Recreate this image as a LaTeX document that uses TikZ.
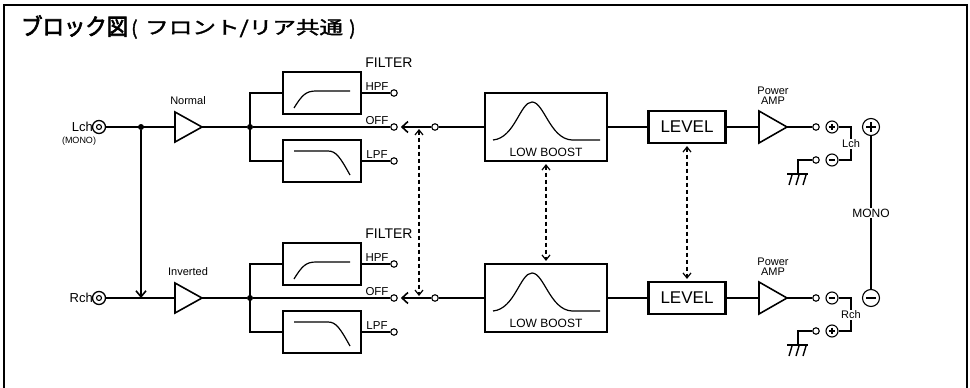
\documentclass[tikz,border=0pt]{standalone}
\usepackage{fontspec}
\setmainfont{Liberation Sans}
\newfontfamily\cjkbig[FakeBold=3]{Noto Sans CJK JP}
\newfontfamily\cjksmall[FakeBold=1.8]{Noto Sans CJK JP}
\usetikzlibrary{arrows.meta}
\tikzset{mybarb/.tip={Straight Barb[length=5pt,width=8pt,line width=1.2pt]}}

\newcommand\fs[1]{\fontsize{#1}{#1}\selectfont}

\newcommand\sgnode[5]{%
  \node[sgn, minimum size={2*#4}] (#1) at (#2,#3) {};
  \draw[line width=1.1pt] (#1.center) +({-0.55*#4},0) -- +({0.55*#4},0);
  \ifnum#5=1 \draw[line width=1.1pt] (#1.center) +(0,{-0.55*#4}) -- +(0,{0.55*#4});\fi
}

% #1 suffix, #2 row y, #3 input label, #4 amp label, #5 upper sign, #6 lower sign, #7 speaker label
\newcommand\chan[7]{%
\begin{scope}[shift={(0,#2)}]
  \node[jack] (jk#1) at (99,0) {};
  \node[jacki] (jki#1) at (99,0) {};
  \node[lbl, font=\fs{13}, anchor=east] (in#1) at (93,0) {#3};
  \draw[amp] (175,-15) -- (202,0) -- (175,15) -- cycle;
  \coordinate (ai#1) at (175,0);
  \coordinate (ao#1) at (202,0);
  \node[lbl, font=\fs{11}] (al#1) at (188,-26) {#4};
  \node[dotn] (fd#1) at (250,0) {};
  \node[fbox] (hpf#1) at (322,-34) {};
  \node[fbox] (lpf#1) at (322,34) {};
  \draw[curve] (294,-19) .. controls (302,-32) and (306,-36) .. (316,-36) -- (350,-36);
  \draw[curve] (294,24) -- (328,24) .. controls (336,24) and (340,30) .. (350,48);
  \node[term] (th#1) at (394,-34) {};
  \node[term] (to#1) at (394,0) {};
  \node[term] (tl#1) at (394,34) {};
  \node[lbl, font=\fs{11.5}, anchor=base] at (377,-36.5) {HPF};
  \node[lbl, font=\fs{11.5}, anchor=base] at (377,-2.5) {OFF};
  \node[lbl, font=\fs{11.5}, anchor=base] at (377,31.5) {LPF};
  \node[lbl, font=\fs{14}] (fl#1) at (389,-64) {FILTER};
  \node[term] (sw#1) at (435,0) {};
  \coordinate (ds#1) at (419,0);
  \node[lbbox] (lb#1) at (546,0) {};
  \node[lbl, font=\fs{12}] at (546,25) {LOW BOOST};
  \draw[curve] (493,13) .. controls (515,11) and (520,-25) .. (532,-25)
               .. controls (544,-25) and (550,12) .. (572,13) -- (600,13);
  \node[lvbox, font=\fs{17}] (lv#1) at (687,0) {LEVEL};
  \draw[amp] (759,-16) -- (787,0) -- (759,16) -- cycle;
  \coordinate (pi#1) at (759,0);
  \coordinate (po#1) at (787,0);
  \node[lbl, font=\fs{11}, align=center] at (773,-31) {Power\\[-1pt]AMP};
  \node[term] (ot#1) at (816,0) {};
  \sgnode{sa#1}{832}{0}{6}{#5}
  \sgnode{sb#1}{832}{33}{6}{#6}
  \node[term] (gt#1) at (816,33) {};
  \coordinate (gc#1) at (798,47);
  \draw[wire1] (sa#1) -- (851,0) -- (851,33) -- (sb#1);
  \node[lbl, font=\fs{11}, fill=white, inner sep=1pt] at (851,17) {#7};
  \draw[wire1] (gt#1) -| (gc#1);
  \draw[wire1] (787,47) -- (808,47);
  \draw[wire1] (792,48) -- (789,58) (799,48) -- (796,58) (806,48) -- (803,58);
  % wires
  \draw[wire] (jk#1) -- (ai#1);
  \draw[wire] (ao#1) -- (fd#1);
  \draw[wire] (fd#1) -- (to#1);
  \draw[wire] (fd#1.center) |- (hpf#1.west);
  \draw[wire] (fd#1.center) |- (lpf#1.west);
  \draw[wire] (hpf#1.east) -- (th#1);
  \draw[wire] (lpf#1.east) -- (tl#1);
  \draw[wire, -{Straight Barb[length=6pt,width=11pt,line width=1.6pt]}, shorten >=3pt] (sw#1) -- (to#1);
  \draw[wire] (sw#1) -- (lb#1.west);
  \draw[wire] (lb#1.east) -- (lv#1.west);
  \draw[wire] (lv#1.east) -- (pi#1);
  \draw[wire] (po#1) -- (ot#1);
\end{scope}}

\begin{document}
\begin{tikzpicture}[x=1pt,y=-1pt,
  wire/.style={line width=1.6pt},
  wire1/.style={line width=1.4pt},
  amp/.style={line width=1.6pt},
  curve/.style={line width=1.2pt},
  lbl/.style={inner sep=0pt},
  dotn/.style={circle, fill=black, inner sep=0pt, minimum size=6pt},
  term/.style={circle, draw, fill=white, line width=1.1pt, inner sep=0pt, minimum size=6.5pt},
  sgn/.style={circle, draw, fill=white, line width=1.1pt, inner sep=0pt},
  jack/.style={circle, draw, line width=1.3pt, inner sep=0pt, minimum size=13pt},
  jacki/.style={circle, draw, line width=1.1pt, inner sep=0pt, minimum size=5pt},
  fbox/.style={draw, line width=2.2pt, minimum width=78pt, minimum height=42pt, inner sep=0pt},
  lbbox/.style={draw, line width=2.2pt, minimum width=122pt, minimum height=68pt, inner sep=0pt},
  lvbox/.style={draw, line width=2.2pt, minimum width=77pt, minimum height=32pt, inner sep=0pt},
  dsh/.style={line width=1.2pt, dash pattern=on 4pt off 3pt}
]
\useasboundingbox (0,0) rectangle (970,388);
\fill[white] (0,0) rectangle (970,388);
\draw[line width=2.5pt] (4,388) -- (4,5) -- (967,5) -- (967,388);

\node[anchor=base west, inner sep=0pt] (title) at (21,35)
  {\scalebox{0.93}[1]{\cjkbig\fs{23}ブロック図}};
\node[anchor=base west, inner sep=0pt] (sub1) at (131,35) {\cjksmall\fs{19}(};
\node[anchor=base west, inner sep=0pt] (sub2) at (145,34)
  {\scalebox{1.31}[1]{\cjksmall\fs{18}フロント/リア共通}};
\node[anchor=base west, inner sep=0pt] (sub3) at (349,35) {\cjksmall\fs{19})};

\chan{L}{127}{Lch}{Normal}{1}{0}{Lch}
\chan{R}{298}{Rch}{Inverted}{0}{1}{Rch}

\node[lbl, font=\fs{9}] (mono1) at (79,141) {(MONO)};

\node[dotn] (spL) at (141,127) {};
\coordinate (spR) at (141,298);
\draw[wire, -{Straight Barb[length=6pt,width=10pt,line width=1.6pt]}] (spL) -- (spR);

\draw[dsh, mybarb-mybarb, shorten <=2pt, shorten >=2pt] (dsL) -- (dsR);
\draw[dsh, mybarb-mybarb, shorten <=2pt, shorten >=2pt] (lbL.south) -- (lbR.north);
\draw[dsh, mybarb-mybarb, shorten <=2pt, shorten >=2pt] (lvL.south) -- (lvR.north);

\sgnode{mp}{871}{127}{8.5}{1}
\sgnode{mm}{871}{298}{8.5}{0}
\draw[wire] (mp) -- (mm);
\node[lbl, font=\fs{12}, fill=white, inner sep=1pt] at (871,213) {MONO};
\end{tikzpicture}
\end{document}
